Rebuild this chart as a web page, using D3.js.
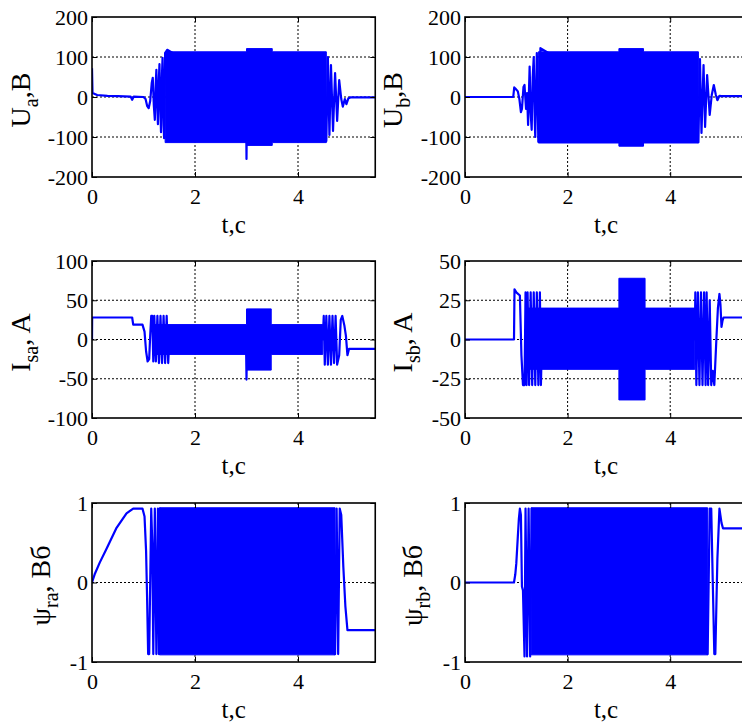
<!DOCTYPE html>
<html>
<head>
<meta charset="utf-8">
<script src="https://cdn.jsdelivr.net/npm/d3@7"></script>
<style>
  body { margin: 0; background: #fff; }
  svg { display: block; }
  text { font-family: "Liberation Serif", "Times New Roman", serif; fill: #000; }
</style>
</head>
<body>
<div id="chart"></div>
<script>
// Six simulation traces (phase voltages, stator currents, rotor fluxes).
// Each trace: visible line points [t, value]; dense oscillation region as
// an envelope band [t, low, high] (step-wise).

const tTicks = [0, 2, 4];
const uTicks = [-200, -100, 0, 100, 200];
const iaTicks = [-100, -50, 0, 50, 100];
const ibTicks = [-50, -25, 0, 25, 50];
const psiTicks = [-1, 0, 1];

// --- U_a, B
const uaTrace = [[0,72],[0.01,10],[0.1,5],[0.3,3],[0.5,2],[0.75,1],[0.78,-7],[0.81,1],[1.0,0],
  [1.04,-5],[1.07,-22],[1.1,-28],[1.13,-10],[1.16,35],[1.18,48],[1.2,-20],[1.22,-57],[1.24,40],
  [1.25,68],[1.27,-30],[1.28,-68],[1.30,50],[1.31,82],[1.33,-40],[1.34,-88],[1.36,60],[1.37,98],
  [1.39,-70],[1.40,-103],[1.42,110],[1.46,118],[2.99,0],[3.0,-155],[3.01,0],[4.55,-110],
  [4.58,100],[4.61,-95],[4.64,80],[4.68,-85],[4.72,60],[4.76,-60],[4.80,42],[4.84,-5],[4.87,-24],
  [4.91,-5],[4.94,-18],[4.98,-3],[5.02,-1],[5.5,-1]];
const uaBand = [[1.42,-114,113],[3.0,-121,121],[3.5,-114,113],[4.55,-114,113]];

// --- U_b, B
const ubTrace = [[0,0],[0.94,0],[0.96,24],[0.99,20],[1.03,14],[1.06,-5],[1.09,-38],[1.11,-30],
  [1.14,25],[1.16,30],[1.19,-30],[1.21,10],[1.23,-70],[1.25,30],[1.26,76],[1.28,-40],[1.30,-82],
  [1.32,50],[1.34,100],[1.36,-60],[1.37,-100],[1.40,110],[1.43,-112],[1.47,122],[4.55,-113],
  [4.58,95],[4.61,-90],[4.65,80],[4.68,-75],[4.72,55],[4.77,-45],[4.81,5],[4.85,30],[4.89,5],
  [4.92,-8],[4.96,3],[5.0,2],[5.5,2]];
const ubBand = [[1.43,-115,113],[3.0,-123,121],[3.48,-115,113],[4.55,-115,113]];

// --- I_sa, A
const isaTrace = [[0,0],[0.003,28],[0.78,28],[0.8,19],[0.98,19],[1.02,10],[1.05,-15],[1.08,-28],
  [1.11,-25],[1.13,5],[1.15,30],[1.17,30],[1.19,-28],[1.21,30],[1.24,-28],[1.27,30],[1.30,-30],
  [1.33,30],[1.36,-30],[1.39,30],[1.42,-30],[1.45,30],[1.48,-30],[1.5,0],[2.99,0],[3.0,-51],
  [3.01,0],[4.48,0],[4.50,30],[4.52,-32],[4.55,30],[4.58,-32],[4.61,30],[4.64,-32],[4.67,30],
  [4.70,-30],[4.73,30],[4.76,-32],[4.80,-20],[4.83,25],[4.86,30],[4.90,18],[4.93,5],[4.96,-20],
  [4.99,-12],[5.5,-12]];
const isaBand = [[1.19,-19,19],[3.0,-39,39],[3.48,-19,19],[4.48,-19,19]];

// --- I_sb, A
const isbTrace = [[0,0],[0.955,0],[0.965,32],[1.0,30],[1.07,28],[1.10,-10],[1.13,-29],[1.16,-29],
  [1.18,30],[1.20,-29],[1.22,30],[1.25,-29],[1.28,30],[1.31,-29],[1.34,30],[1.37,-29],[1.40,30],
  [1.43,-29],[1.46,30],[1.48,-29],[1.5,0],[4.48,0],[4.49,30],[4.51,-29],[4.54,30],[4.57,-29],
  [4.60,30],[4.63,-29],[4.66,30],[4.69,-29],[4.71,30],[4.74,-29],[4.77,25],[4.80,-29],[4.83,-20],
  [4.86,-29],[4.90,0],[4.93,20],[4.96,29],[4.98,22],[5.0,8],[5.02,12],[5.04,14],[5.5,14]];
const isbBand = [[1.2,-19,20],[3.0,-38.5,39],[3.51,-19,20],[4.48,-19,20]];

// --- psi_ra, Wb
const psiaTrace = [[0,0],[0.05,0.1],[0.15,0.25],[0.28,0.42],[0.47,0.68],[0.67,0.87],[0.8,0.93],
  [0.98,0.93],[1.02,0.83],[1.05,0.4],[1.07,-0.2],[1.09,-0.9],[1.11,-0.9],[1.13,0.0],[1.15,0.93],
  [1.17,0.5],[1.19,-0.9],[1.22,0.93],[1.25,-0.9],[1.28,0.93],[1.30,-0.9],[1.32,0.93],[4.72,-0.9],
  [4.75,0.93],[4.78,-0.9],[4.81,0.93],[4.84,0.85],[4.88,0.2],[4.92,-0.3],[4.96,-0.6],[5.5,-0.6]];
const psiaBand = [[1.31,-0.91,0.94],[4.72,-0.91,0.94]];

// --- psi_rb, Wb
const psibTrace = [[0,0],[0.955,0],[0.98,0.1],[1.0,0.24],[1.03,0.58],[1.05,0.8],[1.07,0.93],
  [1.09,0.85],[1.11,-0.05],[1.13,-0.1],[1.16,-0.93],[1.18,0.93],[1.21,-0.93],[1.24,0.93],
  [1.27,-0.93],[1.30,0.93],[4.73,-0.9],[4.77,0.93],[4.80,0.93],[4.83,0.0],[4.86,-0.9],[4.88,-0.9],
  [4.92,0.3],[4.96,0.93],[5.0,0.75],[5.03,0.68],[5.5,0.68]];
const psibBand = [[1.29,-0.91,0.94],[4.73,-0.91,0.94]];

const width = 742, height = 726;
const cols = [{ left: 92, ppu: 51.5 }, { left: 465, ppu: 51.3 }];
const rows = [{ top: 17, bottom: 177 }, { top: 261, bottom: 418 }, { top: 503, bottom: 662 }];

const panels = [
  { col: 0, row: 0, trace: uaTrace,   band: uaBand,   ticks: uTicks,   main: "U", sub: "a",  unit: ",B",     labelX: 30 },
  { col: 1, row: 0, trace: ubTrace,   band: ubBand,   ticks: uTicks,   main: "U", sub: "b",  unit: ",B",     labelX: 402 },
  { col: 0, row: 1, trace: isaTrace,  band: isaBand,  ticks: iaTicks,  main: "I", sub: "sa", unit: ", A",    labelX: 30 },
  { col: 1, row: 1, trace: isbTrace,  band: isbBand,  ticks: ibTicks,  main: "I", sub: "sb", unit: ", A",    labelX: 412 },
  { col: 0, row: 2, trace: psiaTrace, band: psiaBand, ticks: psiTicks, main: "\u03c8", sub: "ra", unit: ", \u0412\u0431", labelX: 50 },
  { col: 1, row: 2, trace: psibTrace, band: psibBand, ticks: psiTicks, main: "\u03c8", sub: "rb", unit: ", \u0412\u0431", labelX: 422 }
];

const svg = d3.select("#chart").append("svg")
  .attr("width", width)
  .attr("height", height);

const blue = "#0000ff";
const fmt = d => String(d);
const serif = '"Liberation Serif", "Times New Roman", serif';

panels.forEach((p, k) => {
  const c = cols[p.col], r = rows[p.row];
  const x = d3.scaleLinear().domain([0, 5.5]).range([c.left, c.left + 5.5 * c.ppu]);
  const y = d3.scaleLinear().domain(d3.extent(p.ticks)).range([r.bottom, r.top]);
  const g = svg.append("g");

  g.append("clipPath").attr("id", "clip" + k)
    .append("rect")
    .attr("x", x(0)).attr("y", r.top)
    .attr("width", x(5.5) - x(0)).attr("height", r.bottom - r.top);

  // dotted grid
  g.selectAll(".vg").data(tTicks.filter(t => t > 0)).join("line")
    .attr("x1", d => x(d)).attr("x2", d => x(d))
    .attr("y1", r.top).attr("y2", r.bottom)
    .style("stroke", "#000").style("stroke-width", 1).style("stroke-dasharray", "2,2");
  g.selectAll(".hg").data(p.ticks.slice(1, -1)).join("line")
    .attr("x1", x(0)).attr("x2", x(5.5))
    .attr("y1", d => y(d)).attr("y2", d => y(d))
    .style("stroke", "#000").style("stroke-width", 1).style("stroke-dasharray", "2,2");

  const data = g.append("g").attr("clip-path", `url(#clip${k})`);

  // dense oscillation envelope
  const area = d3.area()
    .x(d => x(d[0]))
    .y0(d => y(d[1]))
    .y1(d => y(d[2]))
    .curve(d3.curveStepAfter);
  data.append("path")
    .datum(p.band)
    .attr("d", area)
    .style("fill", blue)
    .style("stroke", blue)
    .style("stroke-width", 1);

  const line = d3.line().x(d => x(d[0])).y(d => y(d[1]));
  data.append("path")
    .datum(p.trace)
    .attr("d", line)
    .style("fill", "none")
    .style("stroke", blue)
    .style("stroke-width", 2.2)
    .style("stroke-linejoin", "round");

  // axes: inward ticks, labels on left/bottom
  g.append("g")
    .attr("transform", `translate(0,${r.bottom})`)
    .call(d3.axisBottom(x).tickValues(tTicks).tickSizeInner(-5).tickSizeOuter(0)
      .tickPadding(11).tickFormat(fmt));
  g.append("g")
    .attr("transform", `translate(${x(0)},0)`)
    .call(d3.axisLeft(y).tickValues(p.ticks).tickSizeInner(-5).tickSizeOuter(0)
      .tickPadding(4).tickFormat(fmt));
  g.append("g")
    .attr("transform", `translate(0,${r.top})`)
    .call(d3.axisTop(x).tickValues(tTicks).tickSizeInner(-5).tickSizeOuter(0).tickFormat(""));
  g.append("g")
    .attr("transform", `translate(${x(5.5)},0)`)
    .call(d3.axisRight(y).tickValues(p.ticks).tickSizeInner(-5).tickSizeOuter(0).tickFormat(""));

  g.selectAll(".domain").remove();
  g.selectAll(".tick line").style("stroke", "#000").style("stroke-width", 1);
  g.selectAll(".tick text")
    .style("font-family", serif)
    .style("font-size", "22px")
    .style("fill", "#000");

  // box
  g.append("rect")
    .attr("x", x(0)).attr("y", r.top)
    .attr("width", x(5.5) - x(0)).attr("height", r.bottom - r.top)
    .style("fill", "none").style("stroke", "#000").style("stroke-width", 1.6);

  // x label
  g.append("text")
    .attr("x", (x(0) + x(5.5)) / 2)
    .attr("y", r.bottom + 56)
    .attr("text-anchor", "middle")
    .style("font-family", serif)
    .style("font-size", "25px")
    .text("t,c");

  // y label with subscript
  const yl = g.append("text")
    .attr("transform", `translate(${p.labelX},${(r.top + r.bottom) / 2 + 3}) rotate(-90)`)
    .attr("text-anchor", "middle")
    .style("font-family", serif)
    .style("font-size", "28px");
  yl.append("tspan").text(p.main);
  yl.append("tspan").attr("dy", 8).style("font-size", "20px").text(p.sub);
  yl.append("tspan").attr("dy", -8).text(p.unit);
});
</script>
</body>
</html>
